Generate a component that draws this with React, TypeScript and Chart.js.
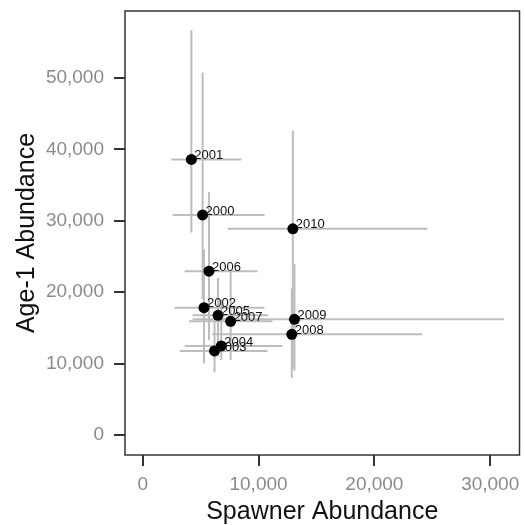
import React, { useEffect, useRef } from 'react';
import { Chart, registerables } from 'chart.js';

Chart.register(...registerables);

const years = ['2000', '2001', '2002', '2003', '2004', '2005', '2006', '2007', '2008', '2009', '2010'];
const spawner = [5170, 4200, 5290, 6200, 6780, 6500, 5720, 7590, 12870, 13100, 12960];
const age1 = [30820, 38590, 17830, 11770, 12470, 16760, 22950, 15920, 14100, 16200, 28870];
const spawnerLo = [2590, 2470, 2760, 3190, 3620, 4300, 3620, 4000, 6000, 4300, 7330];
const spawnerHi = [10520, 8500, 10500, 10780, 12070, 10800, 9910, 11200, 24140, 31200, 24570];
const age1Lo = [19000, 28350, 10000, 8800, 10500, 11000, 13300, 10500, 8000, 9000, 9530];
const age1Hi = [50760, 56680, 26000, 16500, 19000, 22000, 34000, 23000, 20500, 24000, 42600];

const xTicks = [0, 10000, 20000, 30000];
const yTicks = [0, 10000, 20000, 30000, 40000, 50000];

const FONT = '"Liberation Sans", Arial, Helvetica, sans-serif';

export default function App() {
  const ref = useRef<HTMLCanvasElement>(null);

  useEffect(() => {
    document.body.style.margin = '0';
    const canvas = ref.current;
    if (!canvas) return;

    const errorBars = {
      id: 'errorBars',
      beforeDatasetsDraw(chart: any) {
        const { ctx, scales } = chart;
        const x = scales.x;
        const y = scales.y;
        ctx.save();
        ctx.strokeStyle = '#bdbdbd';
        ctx.lineWidth = 2;
        for (let i = 0; i < years.length; i++) {
          const px = x.getPixelForValue(spawner[i]);
          const py = y.getPixelForValue(age1[i]);
          ctx.beginPath();
          ctx.moveTo(x.getPixelForValue(spawnerLo[i]), py);
          ctx.lineTo(x.getPixelForValue(spawnerHi[i]), py);
          ctx.moveTo(px, y.getPixelForValue(age1Lo[i]));
          ctx.lineTo(px, y.getPixelForValue(age1Hi[i]));
          ctx.stroke();
        }
        ctx.restore();
      },
    };

    const yearLabels = {
      id: 'yearLabels',
      afterDatasetsDraw(chart: any) {
        const { ctx, scales } = chart;
        ctx.save();
        ctx.fillStyle = '#111';
        ctx.font = `13px ${FONT}`;
        ctx.textAlign = 'left';
        ctx.textBaseline = 'middle';
        for (let i = 0; i < years.length; i++) {
          const px = scales.x.getPixelForValue(spawner[i]);
          const py = scales.y.getPixelForValue(age1[i]);
          ctx.fillText(years[i], px + 3, py - 4);
        }
        ctx.restore();
      },
    };

    const frame = {
      id: 'frame',
      afterDraw(chart: any) {
        const { ctx, chartArea: a } = chart;
        ctx.save();
        ctx.strokeStyle = '#333';
        ctx.lineWidth = 1.5;
        ctx.strokeRect(a.left, a.top, a.right - a.left, a.bottom - a.top);
        ctx.restore();
      },
    };

    const chart = new Chart(canvas, {
      type: 'scatter',
      data: {
        datasets: [
          {
            data: spawner.map((v, i) => ({ x: v, y: age1[i] })),
            pointRadius: 5.5,
            pointHoverRadius: 5.5,
            backgroundColor: '#000',
            borderColor: '#000',
            borderWidth: 0,
          },
        ],
      },
      options: {
        animation: false,
        responsive: false,
        devicePixelRatio: 1,
        layout: { padding: { top: 11, right: 5, left: 0, bottom: 0 } },
        plugins: { legend: { display: false }, tooltip: { enabled: false } },
        scales: {
          x: {
            type: 'linear',
            min: -1530,
            max: 32530,
            afterBuildTicks: (s: any) => {
              s.ticks = xTicks.map((v) => ({ value: v }));
            },
            afterFit: (s: any) => {
              s.height = 70;
              s.paddingLeft = 0;
              s.paddingRight = 0;
            },
            grid: { drawOnChartArea: false, drawTicks: true, tickLength: 11, color: '#333', lineWidth: 2 },
            border: { display: false },
            ticks: {
              padding: 7,
              color: '#8a8a8a',
              font: { family: FONT, size: 19 },
              callback: (v: any) => Number(v).toLocaleString('en-US'),
            },
            title: {
              display: true,
              text: 'Spawner Abundance',
              color: '#111',
              font: { family: FONT, size: 25, lineHeight: 1 },
              padding: { top: 0, bottom: 0.5 },
            },
          },
          y: {
            type: 'linear',
            min: -2800,
            max: 59380,
            afterBuildTicks: (s: any) => {
              s.ticks = yTicks.map((v) => ({ value: v }));
            },
            afterFit: (s: any) => {
              s.width = 125;
              s.paddingTop = 0;
              s.paddingBottom = 0;
            },
            grid: { drawOnChartArea: false, drawTicks: true, tickLength: 11, color: '#333', lineWidth: 2 },
            border: { display: false },
            ticks: {
              padding: 10,
              color: '#8a8a8a',
              font: { family: FONT, size: 19 },
              callback: (v: any) => Number(v).toLocaleString('en-US'),
            },
            title: {
              display: true,
              text: 'Age-1 Abundance',
              color: '#111',
              font: { family: FONT, size: 25, lineHeight: 1 },
              padding: { top: 14.5, bottom: 0 },
            },
          },
        },
      },
      plugins: [errorBars, yearLabels, frame],
    } as any);

    return () => chart.destroy();
  }, []);

  return <canvas ref={ref} width={525} height={525} style={{ display: 'block' }} />;
}
